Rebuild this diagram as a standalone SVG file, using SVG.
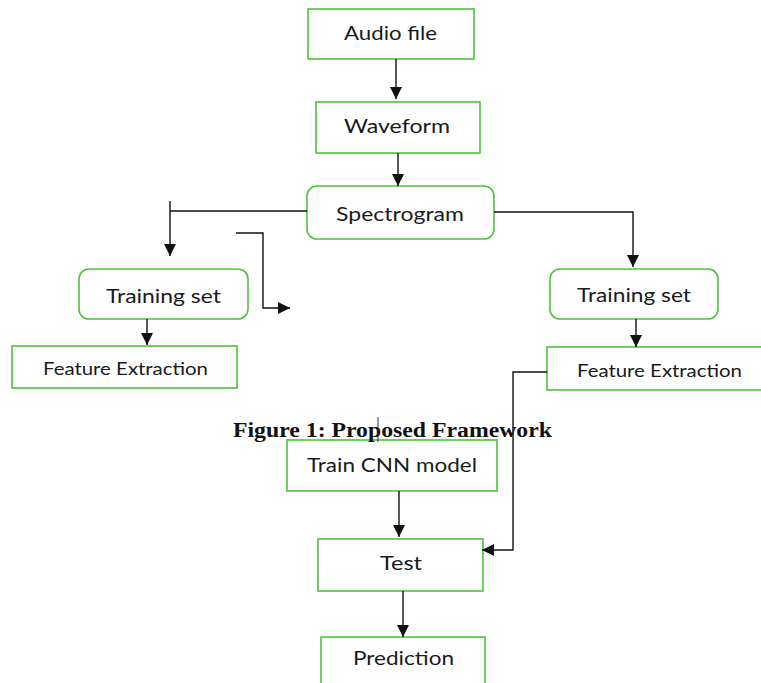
<svg xmlns="http://www.w3.org/2000/svg" width="761" height="683" viewBox="0 0 761 683">
<style>
.box{fill:#fff;stroke:#4cc43a;stroke-width:1.6}
.lbl{font-family:Lato,"Open Sans","Liberation Sans",sans-serif;font-size:19.5px;fill:#1a1a1a}
.sm{font-size:16.5px}
.wire{fill:none;stroke:#111;stroke-width:1.4}
.cap{font-family:"Liberation Serif","DejaVu Serif",serif;font-weight:bold;font-size:20px;fill:#111}
</style>
<defs>
<marker id="ah" markerUnits="userSpaceOnUse" markerWidth="12" markerHeight="14" viewBox="0 0 12 14" refX="12" refY="7" orient="auto">
<path d="M0,1 L12,7 L0,13 Z" fill="#111"/>
</marker>
</defs>
<rect width="761" height="683" fill="#fff"/>
<g id="audio">
<rect class="box" x="308" y="9" width="166" height="50"/>
<text class="lbl" x="344" y="40" textLength="93" lengthAdjust="spacingAndGlyphs">Audio file</text>
</g>
<g id="waveform">
<rect class="box" x="316" y="102" width="164" height="51"/>
<text class="lbl" x="344" y="133" textLength="106" lengthAdjust="spacingAndGlyphs">Waveform</text>
</g>
<g id="spectrogram">
<rect class="box" x="307" y="186" width="187" height="53" rx="10"/>
<text class="lbl" x="336" y="221" textLength="128" lengthAdjust="spacingAndGlyphs">Spectrogram</text>
</g>
<g id="train-left">
<rect class="box" x="79" y="269" width="169" height="50" rx="10"/>
<text class="lbl" x="106" y="303" textLength="115" lengthAdjust="spacingAndGlyphs">Training set</text>
</g>
<g id="feat-left">
<rect class="box" x="12" y="346" width="225" height="42"/>
<text class="lbl sm" x="43" y="375" textLength="165" lengthAdjust="spacingAndGlyphs">Feature  Extraction</text>
</g>
<g id="train-right">
<rect class="box" x="550" y="269" width="168" height="50" rx="10"/>
<text class="lbl" x="577" y="302" textLength="114" lengthAdjust="spacingAndGlyphs">Training set</text>
</g>
<g id="feat-right">
<rect class="box" x="547" y="347" width="230" height="43"/>
<text class="lbl sm" x="577" y="377" textLength="165" lengthAdjust="spacingAndGlyphs">Feature  Extraction</text>
</g>
<g id="train-cnn">
<rect class="box" x="287" y="440" width="210" height="51"/>
<text class="lbl" x="307" y="472" textLength="170" lengthAdjust="spacingAndGlyphs">Train CNN model</text>
</g>
<g id="test">
<rect class="box" x="318" y="539" width="165" height="52"/>
<text class="lbl" x="380" y="570" textLength="42" lengthAdjust="spacingAndGlyphs">Test</text>
</g>
<g id="prediction">
<rect class="box" x="321" y="637" width="164" height="60"/>
<text class="lbl" x="353" y="665" textLength="101" lengthAdjust="spacingAndGlyphs">Prediction</text>
</g>
<g id="caption">
<text class="cap" x="233" y="437" textLength="319" lengthAdjust="spacingAndGlyphs">Figure 1: Proposed Framework</text>
<line x1="378" y1="417" x2="378" y2="442" stroke="#334" stroke-width="1"/>
</g>
<g id="connectors">
<path class="wire" d="M396,59 V99" marker-end="url(#ah)"/>
<path class="wire" d="M398,153 V186" marker-end="url(#ah)"/>
<path class="wire" d="M307,211 H170"/>
<path class="wire" d="M170,201 V256" marker-end="url(#ah)"/>
<path class="wire" d="M236,233 H263 V308 H290" marker-end="url(#ah)"/>
<path class="wire" d="M494,212 H633 V267" marker-end="url(#ah)"/>
<path class="wire" d="M147,319 V345" marker-end="url(#ah)"/>
<path class="wire" d="M636,319 V347" marker-end="url(#ah)"/>
<path class="wire" d="M547,372 H513 V550 H482" marker-end="url(#ah)"/>
<path class="wire" d="M399,491 V537" marker-end="url(#ah)"/>
<path class="wire" d="M403,591 V637" marker-end="url(#ah)"/>
</g>
</svg>
